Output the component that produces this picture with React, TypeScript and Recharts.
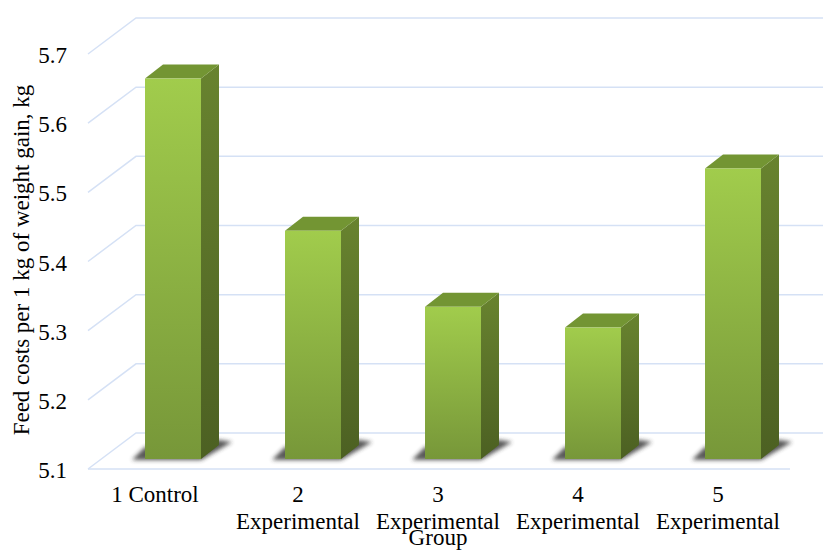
import React from 'react';
import { BarChart, Bar, XAxis, YAxis, CartesianGrid } from 'recharts';

const CATEGORIES = ['1 Control', '2 Experimental', '3 Experimental Group', '4 Experimental', '5 Experimental'];
const FEED_COSTS = [5.65, 5.43, 5.32, 5.29, 5.52];
const Y_TICKS = [5.1, 5.2, 5.3, 5.4, 5.5, 5.6, 5.7];

// line breaks for the category labels
const CATEGORY_LINES: Record<string, string[]> = {
  '1 Control': ['1 Control'],
  '2 Experimental': ['2', 'Experimental'],
  '3 Experimental Group': ['3', 'Experimental', 'Group'],
  '4 Experimental': ['4', 'Experimental'],
  '5 Experimental': ['5', 'Experimental'],
};
const LINE_OFFSETS = [0, 27, 43];

const chartData = CATEGORIES.map((name, i) => ({ name, cost: FEED_COSTS[i] }));

const FONT = '"Liberation Serif", serif';
const GRID_COLOR = '#D5E1F5';

// oblique projection of the walls
const WALL_DX = 48;
const WALL_DY = 36;
const FRONT_SHIFT = 10;
const BAR_DX = 18;
const BAR_DY = 14;

const gridLine = (props: any) => {
  const { y1, key } = props;
  const frontX = 88;
  const frontY = y1 + FRONT_SHIFT;
  const isFloor = Math.abs(y1 - 459) < 1;
  return (
    <g key={key ?? y1}>
      <polyline
        points={`${frontX},${frontY} ${frontX + WALL_DX},${frontY - WALL_DY} 840,${frontY - WALL_DY}`}
        fill="none"
        stroke={GRID_COLOR}
        strokeWidth={1.5}
      />
      {isFloor && (
        <line x1={frontX} y1={frontY} x2={790} y2={frontY} stroke={GRID_COLOR} strokeWidth={1.5} />
      )}
    </g>
  );
};

const Bar3D = (props: any) => {
  const { x, y, width, height } = props;
  const bottom = y + height;
  const right = x + width;
  return (
    <g>
      <polygon
        points={`${x - 13},${bottom + 1} ${right},${bottom + 1} ${right + BAR_DX + 13},${bottom - BAR_DY - 3} ${right + BAR_DX},${bottom - BAR_DY - 5} ${x},${bottom - 12}`}
        fill="#2e2e2e"
        opacity={0.8}
        filter="url(#floorShadow)"
      />
      <polygon
        points={`${right},${y} ${right + BAR_DX},${y - BAR_DY} ${right + BAR_DX},${bottom - BAR_DY} ${right},${bottom}`}
        fill="url(#barSide)"
      />
      <polygon
        points={`${x},${y} ${x + BAR_DX},${y - BAR_DY} ${right + BAR_DX},${y - BAR_DY} ${right},${y}`}
        fill="#739533"
      />
      <rect x={x} y={y} width={width} height={height} fill="url(#barFront)" />
    </g>
  );
};

const XTick = (props: any) => {
  const { x, payload } = props;
  const lines = CATEGORY_LINES[payload.value] ?? [payload.value];
  // the single-line label sits a little further left
  const labelX = lines.length === 1 ? x - 18 : x - 15;
  return (
    <g>
      {lines.map((line, i) => (
        <text
          key={line}
          x={labelX}
          y={502 + LINE_OFFSETS[i]}
          textAnchor="middle"
          fontFamily={FONT}
          fontSize={23}
          fill="#000"
        >
          {line}
        </text>
      ))}
    </g>
  );
};

const YTick = (props: any) => {
  const { y, payload } = props;
  return (
    <text x={67} y={y + FRONT_SHIFT + 9} textAnchor="end" fontFamily={FONT} fontSize={23} fill="#000">
      {payload.value.toFixed(1)}
    </text>
  );
};

export default function App() {
  return (
    <div style={{ position: 'absolute', left: 0, top: 0, width: 823, height: 550, background: '#fff' }}>
      <BarChart
        width={823}
        height={550}
        data={chartData}
        margin={{ top: 44, right: 20, bottom: 0, left: 0 }}
      >
        <defs>
          <linearGradient id="barFront" x1="0" y1="0" x2="0" y2="1">
            <stop offset="0%" stopColor="#A1CC4C" />
            <stop offset="100%" stopColor="#779739" />
          </linearGradient>
          <linearGradient id="barSide" x1="0" y1="0" x2="0" y2="1">
            <stop offset="0%" stopColor="#68832F" />
            <stop offset="100%" stopColor="#4C6022" />
          </linearGradient>
          <filter id="floorShadow" x="-30%" y="-50%" width="160%" height="200%">
            <feGaussianBlur stdDeviation="2.2" />
          </filter>
        </defs>
        <CartesianGrid vertical={false} horizontal={gridLine} />
        <XAxis
          dataKey="name"
          interval={0}
          axisLine={false}
          tickLine={false}
          height={91}
          tick={XTick}
        />
        <YAxis
          type="number"
          domain={[5.1, 5.7]}
          ticks={Y_TICKS}
          width={103}
          axisLine={false}
          tickLine={false}
          tick={YTick}
        />
        <Bar dataKey="cost" barSize={56} shape={Bar3D} isAnimationActive={false} />
        <text
          transform="translate(29 260) rotate(-90)"
          textAnchor="middle"
          fontFamily={FONT}
          fontSize={23}
          fill="#000"
        >
          Feed costs per 1 kg of weight gain, kg
        </text>
      </BarChart>
    </div>
  );
}
